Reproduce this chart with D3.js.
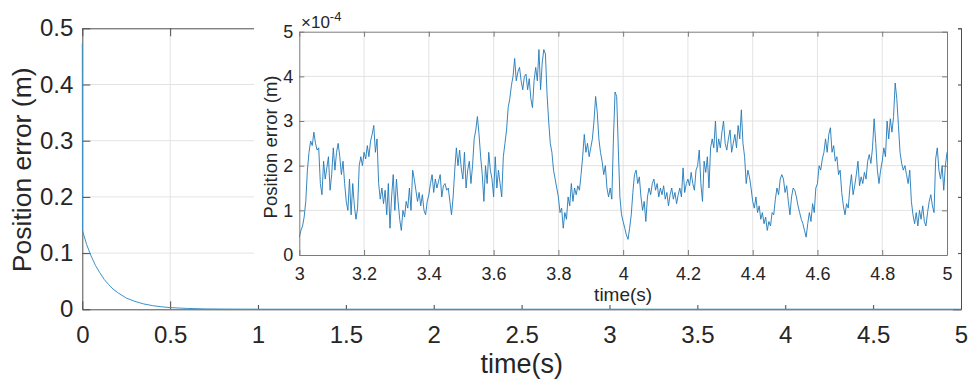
<!DOCTYPE html>
<html><head><meta charset="utf-8">
<script src="https://cdn.jsdelivr.net/npm/d3@7/dist/d3.min.js"></script>
<style>
html,body{margin:0;padding:0;background:#fff;}
svg{display:block;font-family:"Liberation Sans",Arial,Helvetica,sans-serif;}
</style></head>
<body>
<svg id="chart" width="970" height="387"></svg>
<script>
// ---------------- DATA ----------------
// Main plot: position error (m) vs time (s)
const mainTime = [0, 0.001, 0.025, 0.05, 0.075, 0.1, 0.125, 0.15, 0.175, 0.2, 0.25, 0.3, 0.35, 0.4, 0.45, 0.5, 0.6, 0.7, 0.8, 1.0, 1.5, 2.0, 2.5, 3.0, 3.5, 4.0, 4.5, 5.0];
const mainError = [0.473, 0.140, 0.115, 0.095, 0.078, 0.065, 0.053, 0.044, 0.036, 0.030, 0.020, 0.014, 0.0095, 0.0065, 0.0045, 0.003, 0.0015, 0.0007, 0.0004, 0.0002, 0.0002, 0.0002, 0.0002, 0.0002, 0.0002, 0.0002, 0.0002, 0.0002];
const mainXTicks = [0, 0.5, 1, 1.5, 2, 2.5, 3, 3.5, 4, 4.5, 5];
const mainYTicks = [0, 0.1, 0.2, 0.3, 0.4, 0.5];

// Inset: zoom on t = 3..5 s, error in units of 1e-4 m, sampled every 0.005 s
const insetStart = 3.0;
const insetStep = 0.005;
const insetErrE4 = [
0.40,0.55,0.65,0.85,1.20,1.90,2.30,2.55,2.45,2.75,2.50,2.35,2.40,1.60,1.35,2.10,1.70,1.95,2.20,1.45,
1.80,2.40,1.90,2.30,2.50,2.20,1.80,2.10,1.60,1.20,1.00,1.70,0.90,1.60,1.10,0.80,1.05,2.00,2.20,2.00,
2.30,2.15,2.45,2.20,2.55,2.70,2.90,2.30,2.60,1.60,1.25,1.50,1.15,1.45,0.90,1.60,0.60,1.30,1.80,1.00,
1.70,1.20,0.80,0.55,1.00,0.85,1.20,1.05,1.50,1.00,1.90,1.70,1.45,1.20,1.40,1.10,1.35,1.00,0.90,1.20,
1.35,1.60,1.80,1.40,1.70,1.50,1.65,1.80,1.30,1.55,1.60,1.45,1.50,1.20,0.90,1.30,1.90,2.40,2.00,2.35,
1.95,1.70,2.30,1.50,1.90,2.10,1.60,2.00,2.60,2.80,3.10,2.70,2.20,1.80,1.20,2.00,1.60,2.30,1.90,1.70,
1.30,2.20,1.50,1.90,1.60,1.30,2.20,2.50,2.80,3.30,3.50,3.80,4.00,4.40,3.90,4.10,4.20,3.90,3.70,4.00,
4.05,3.70,3.95,3.50,3.30,3.90,4.20,3.90,4.60,3.70,4.30,4.60,4.50,3.60,3.00,2.50,2.30,1.90,1.70,1.50,
1.30,0.95,1.05,0.60,0.95,0.80,1.30,1.10,1.60,1.20,1.50,1.35,1.55,1.45,1.80,2.20,2.70,2.30,2.50,2.20,
2.40,2.60,3.00,3.55,3.20,2.60,2.30,2.10,1.80,2.00,1.50,1.30,1.50,1.25,2.60,3.65,3.55,2.40,1.30,0.90,
0.75,0.60,0.45,0.35,0.60,0.90,1.40,1.80,1.90,1.60,1.75,1.30,1.00,1.20,0.75,1.30,1.50,1.35,1.60,1.70,
1.45,1.60,1.30,1.50,1.35,1.55,1.25,1.40,1.10,1.35,1.50,1.25,1.40,1.15,1.35,1.50,1.30,1.95,1.40,1.60,
1.70,1.55,1.85,1.60,1.45,1.90,2.00,2.35,1.60,1.20,2.10,1.85,2.20,1.50,2.40,2.60,2.40,3.00,2.30,2.60,
2.40,2.75,3.00,2.50,2.35,2.60,2.80,2.30,2.50,2.70,2.40,2.90,2.60,3.25,2.50,2.20,1.60,1.90,1.75,1.50,
1.20,1.05,1.30,0.95,1.10,0.80,0.95,0.70,0.85,0.55,0.75,0.65,0.95,0.90,1.25,1.50,1.35,1.70,1.80,1.70,
1.40,1.55,1.20,0.90,1.30,1.50,1.45,1.30,1.10,0.95,0.80,0.70,0.55,0.40,0.70,0.95,0.75,1.15,0.95,1.50,
1.60,2.00,1.90,2.15,2.30,2.60,2.30,2.70,2.85,2.30,2.45,2.10,2.20,1.80,1.90,1.40,1.10,0.90,1.15,1.05,
1.50,1.80,1.35,1.55,1.80,2.10,1.55,1.75,1.60,1.85,1.70,2.10,2.25,2.05,2.40,3.05,2.50,1.90,1.60,1.90,
2.10,2.40,2.20,3.00,2.60,3.05,2.75,3.10,3.85,3.50,2.90,2.30,2.05,1.90,2.00,1.80,1.60,1.90,1.20,0.90,
0.70,0.95,0.65,1.00,0.80,1.10,0.75,0.65,0.95,1.20,1.35,1.10,0.95,2.15,2.40,1.90,1.70,2.00,1.45,2.00,
2.30
];
const insetXTicks = [3, 3.2, 3.4, 3.6, 3.8, 4, 4.2, 4.4, 4.6, 4.8, 5];
const insetYTicks = [0, 1, 2, 3, 4, 5];

// ---------------- DRAW ----------------
const svg = d3.select("#chart");

// main axes
const mx = d3.scaleLinear().domain([0, 5]).range([82.3, 961]);
const my = d3.scaleLinear().domain([0, 0.5]).range([309.3, 28.3]);

const mainG = svg.append("g");
// grid
mainG.append("g").selectAll("line.gx").data(mainXTicks.slice(1, -1)).join("line")
  .attr("x1", d => mx(d)).attr("x2", d => mx(d)).attr("y1", my(0)).attr("y2", my(0.5))
  .attr("stroke", "#e3e3e3").attr("stroke-width", 1);
mainG.append("g").selectAll("line.gy").data(mainYTicks.slice(1, -1)).join("line")
  .attr("x1", mx(0)).attr("x2", mx(5)).attr("y1", d => my(d)).attr("y2", d => my(d))
  .attr("stroke", "#e3e3e3").attr("stroke-width", 1);

const axCol = "#4d4d4d";
function styleAxis(g, col, fs, tcol) {
  g.select(".domain").attr("stroke", col).attr("stroke-width", 1);
  g.selectAll(".tick line").attr("stroke", col).attr("stroke-width", 1);
  g.selectAll(".tick text").attr("fill", tcol).attr("font-size", fs + "px")
    .attr("font-family", "'Liberation Sans',Arial,sans-serif");
}
const mxAxis = mainG.append("g").attr("transform", `translate(0,${my(0)})`)
  .call(d3.axisBottom(mx).tickValues(mainXTicks).tickFormat(d3.format("~g")).tickSizeInner(-8).tickSizeOuter(0).tickPadding(17));
styleAxis(mxAxis, axCol, 24, "#262626");
const mxTop = mainG.append("g").attr("transform", `translate(0,${my(0.5)})`)
  .call(d3.axisTop(mx).tickValues(mainXTicks).tickFormat("").tickSizeInner(-8).tickSizeOuter(0));
styleAxis(mxTop, axCol, 24, "#262626");
const myAxis = mainG.append("g").attr("transform", `translate(${mx(0)},0)`)
  .call(d3.axisLeft(my).tickValues(mainYTicks).tickFormat(d3.format("~g")).tickSizeInner(-8).tickSizeOuter(0).tickPadding(9));
styleAxis(myAxis, axCol, 24, "#262626");
const myRight = mainG.append("g").attr("transform", `translate(${mx(5)},0)`)
  .call(d3.axisRight(my).tickValues(mainYTicks).tickFormat("").tickSizeInner(-8).tickSizeOuter(0));
styleAxis(myRight, axCol, 24, "#262626");

// main labels
mainG.append("text").attr("x", (mx(0) + mx(5)) / 2 + 0).attr("y", 373)
  .attr("text-anchor", "middle").attr("font-size", "27px").attr("fill", "#262626").text("time(s)");
mainG.append("text").attr("transform", `translate(31,${(my(0) + my(0.5)) / 2 + 1}) rotate(-90)`)
  .attr("text-anchor", "middle").attr("font-size", "26.5px").attr("fill", "#262626").text("Position error (m)");

// main line
const mainData = mainTime.map((t, i) => [t, mainError[i]]);
mainG.append("path").datum(mainData)
  .attr("fill", "none").attr("stroke", "#3a93c9").attr("stroke-width", 1)
  .attr("d", d3.line().x(d => mx(d[0])).y(d => my(d[1])));

// ---------------- INSET ----------------
const inset = svg.append("g");
inset.append("rect").attr("x", 254).attr("y", 0).attr("width", 958 - 254).attr("height", 305).attr("fill", "#fff");

const ix = d3.scaleLinear().domain([3, 5]).range([299.3, 947]);
const iy = d3.scaleLinear().domain([0, 5]).range([255, 31.7]);

inset.append("g").selectAll("line").data(insetXTicks.slice(1, -1)).join("line")
  .attr("x1", d => ix(d)).attr("x2", d => ix(d)).attr("y1", iy(0)).attr("y2", iy(5))
  .attr("stroke", "#e3e3e3").attr("stroke-width", 1);
inset.append("g").selectAll("line").data(insetYTicks.slice(1, -1)).join("line")
  .attr("x1", ix(3)).attr("x2", ix(5)).attr("y1", d => iy(d)).attr("y2", d => iy(d))
  .attr("stroke", "#e3e3e3").attr("stroke-width", 1);

const insetData = insetErrE4.map((v, i) => [insetStart + i * insetStep, v]);
inset.append("path").datum(insetData)
  .attr("fill", "none").attr("stroke", "#1f78b8").attr("stroke-width", 0.9)
  .attr("stroke-linejoin", "round")
  .attr("d", d3.line().x(d => ix(d[0])).y(d => iy(d[1])));

const inCol = "#7a7a7a";
const ixAxis = inset.append("g").attr("transform", `translate(0,${iy(0)})`)
  .call(d3.axisBottom(ix).tickValues(insetXTicks).tickFormat(d3.format("~g")).tickSizeInner(-5).tickSizeOuter(0).tickPadding(12));
styleAxis(ixAxis, inCol, 18, "#262626");
const ixTop = inset.append("g").attr("transform", `translate(0,${iy(5)})`)
  .call(d3.axisTop(ix).tickValues(insetXTicks).tickFormat("").tickSizeInner(-5).tickSizeOuter(0));
styleAxis(ixTop, inCol, 18, "#262626");
const iyAxis = inset.append("g").attr("transform", `translate(${ix(3)},0)`)
  .call(d3.axisLeft(iy).tickValues(insetYTicks).tickFormat(d3.format("~g")).tickSizeInner(-5).tickSizeOuter(0).tickPadding(6));
styleAxis(iyAxis, inCol, 18, "#262626");
const iyRight = inset.append("g").attr("transform", `translate(${ix(5)},0)`)
  .call(d3.axisRight(iy).tickValues(insetYTicks).tickFormat("").tickSizeInner(-5).tickSizeOuter(0));
styleAxis(iyRight, inCol, 18, "#262626");

inset.append("text").attr("x", (ix(3) + ix(5)) / 2).attr("y", 301)
  .attr("text-anchor", "middle").attr("font-size", "19px").attr("fill", "#262626").text("time(s)");
inset.append("text").attr("transform", `translate(277,147) rotate(-90)`)
  .attr("text-anchor", "middle").attr("font-size", "18.5px").attr("fill", "#262626").text("Position error (m)");

const expo = inset.append("text").attr("x", 301).attr("y", 27.5).attr("fill", "#262626").attr("font-size", "17px");
expo.append("tspan").text("\u00d710");
expo.append("tspan").attr("dy", -7).attr("font-size", "13px").text("-4");
</script>
</body></html>
